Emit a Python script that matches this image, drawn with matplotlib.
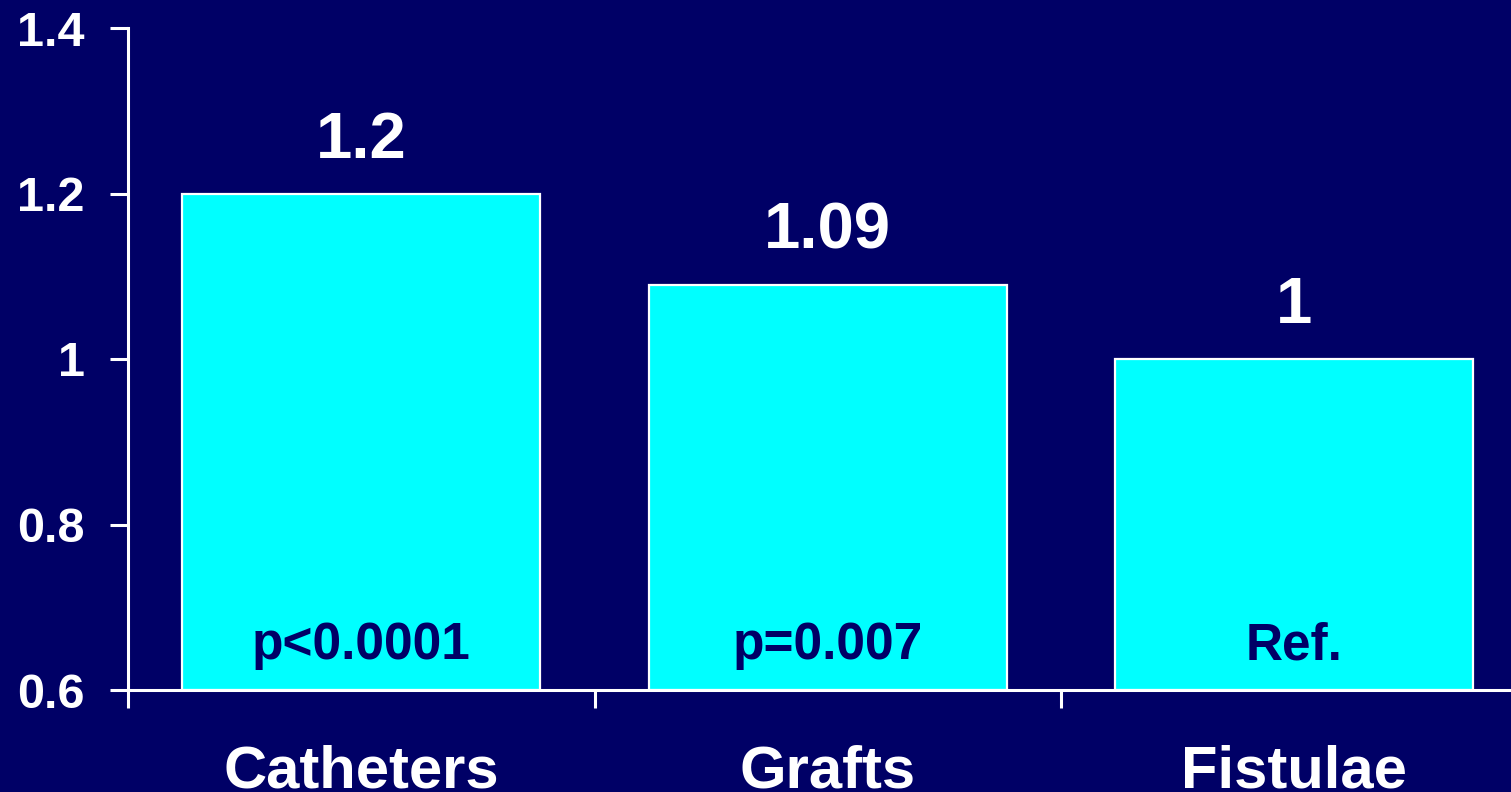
import numpy as np
import matplotlib.pyplot as plt

# relative risk by vascular access type
categories = ["Catheters", "Grafts", "Fistulae"]
risk = [1.2, 1.09, 1.0]
value_labels = ["1.2", "1.09", "1"]
p_labels = ["p<0.0001", "p=0.007", "Ref."]
y_ticks = [0.6, 0.8, 1.0, 1.2, 1.4]
y_tick_labels = ["0.6", "0.8", "1", "1.2", "1.4"]

BG = "#000066"
BAR = "#00FFFF"
FONT = "Liberation Sans"

plt.rcParams["font.family"] = [FONT, "DejaVu Sans"]
plt.rcParams["font.weight"] = "bold"

fig = plt.figure(figsize=(15.11, 7.92), dpi=100)
fig.patch.set_facecolor(BG)

W, H = 1511, 792
left, bottom, top = 128, 690, 28
slot = 466.5
ax = fig.add_axes([left / W, (H - bottom) / H, 3 * slot / W, (bottom - top) / H])
ax.set_facecolor(BG)

x = np.arange(len(categories)) + 0.5
ax.bar(x, np.array(risk) - 0.6, bottom=0.6, width=0.767,
       color=BAR, edgecolor="white", linewidth=1.6, zorder=2)

ax.set_xlim(0, 3)
ax.set_ylim(0.6, 1.4)

for xi, v, lab, p in zip(x, risk, value_labels, p_labels):
    ax.annotate(lab, (xi, v), xytext=(0, 38), textcoords="offset points",
                ha="center", va="center", color="white",
                fontsize=47, fontweight="bold")
    ax.annotate(p, (xi, 0.6), xytext=(0, 32), textcoords="offset points",
                ha="center", va="center", color=BG,
                fontsize=37, fontweight="bold")

# boundary ticks on the x axis, labels at category centres
ax.set_xticks([0, 1, 2, 3])
ax.set_xticklabels([])
ax.set_xticks(x, minor=True)
ax.set_xticklabels(categories, minor=True)
ax.tick_params(axis="x", which="major", direction="out", length=13,
               width=2.2, color="white")
ax.tick_params(axis="x", which="minor", length=0, pad=39,
               labelsize=43, labelcolor="white")

ax.set_yticks(y_ticks)
ax.set_yticklabels(y_tick_labels)
ax.tick_params(axis="y", direction="out", length=13, width=2.2,
               color="white", pad=18, labelsize=35, labelcolor="white")

for lbl in ax.get_xticklabels(minor=True) + ax.get_yticklabels():
    lbl.set_fontweight("bold")

for side in ["top", "right"]:
    ax.spines[side].set_visible(False)
for side in ["left", "bottom"]:
    ax.spines[side].set_color("white")
    ax.spines[side].set_linewidth(2.2)
    ax.spines[side].set_zorder(3)

fig.savefig("out.png", dpi=100, facecolor=BG)
